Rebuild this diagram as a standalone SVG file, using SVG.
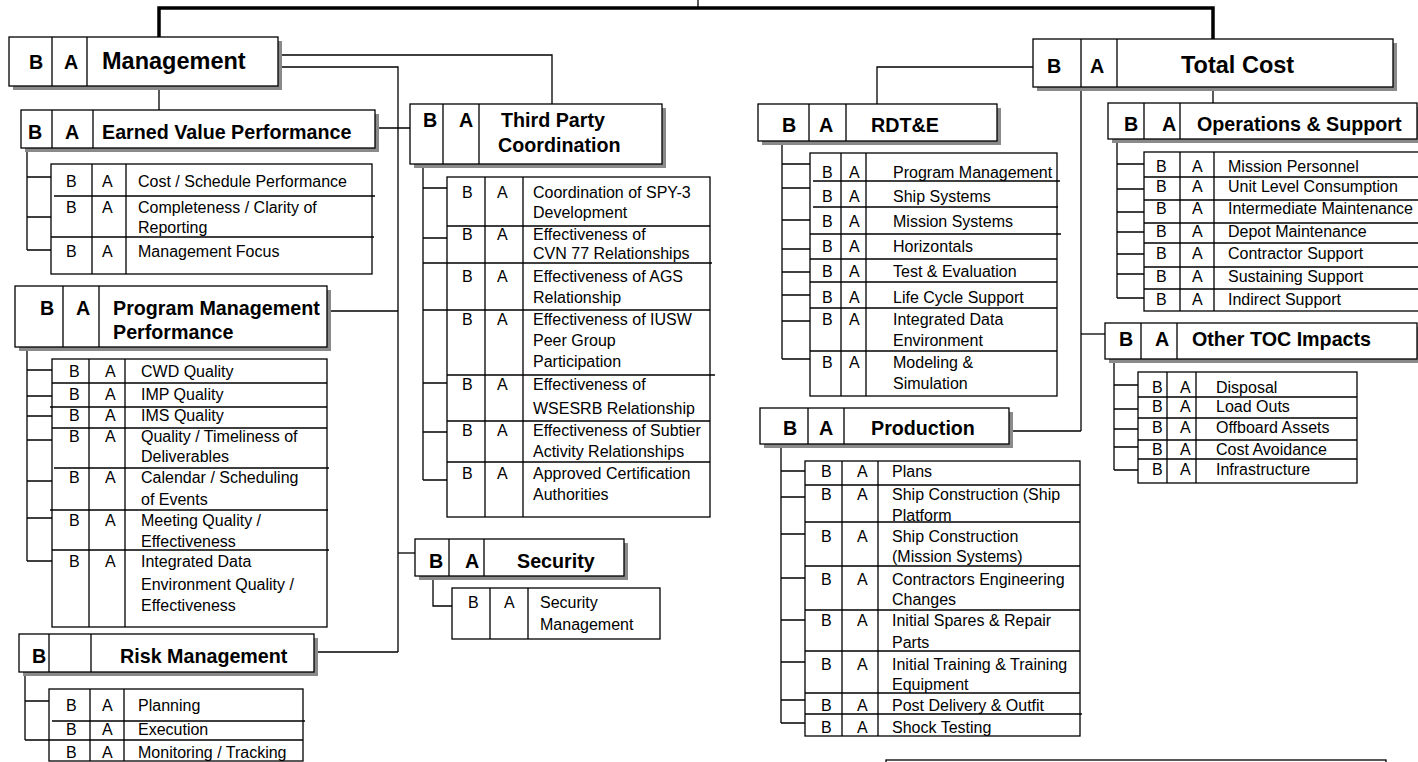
<svg xmlns="http://www.w3.org/2000/svg" width="1418" height="762" viewBox="0 0 1418 762">
<style>
.bx{fill:#fff;stroke:#000;stroke-width:1.3}
.sh{fill:#8a8a8a}
.ln{stroke:#000;stroke-width:1.3;fill:none}
.h{font-family:"Liberation Sans",Arial,sans-serif;font-weight:bold;font-size:19.7px;fill:#000}
.hb{font-family:"Liberation Sans",Arial,sans-serif;font-weight:bold;font-size:23.5px;fill:#000}
.t{font-family:"Liberation Sans",Arial,sans-serif;font-size:16px;fill:#000}
</style>
<rect width="1418" height="762" fill="#fff"/>
<g id="connectors">
<path d="M159,37 V8 H1213 V39" fill="none" stroke="#000" stroke-width="3.5"/>
<path d="M698,0 V8" class="ln" stroke-width="2"/>
<path class="ln" d="M278,55 H552 V104"/>
<path class="ln" d="M278,67 H398 V652"/>
<path class="ln" d="M375,128 H410"/>
<path class="ln" d="M327,311 H398"/>
<path class="ln" d="M398,553 H415"/>
<path class="ln" d="M314,652 H398"/>
<path class="ln" d="M159,86 V110"/>
<path class="ln" d="M1033,67 H877 V104"/>
<path class="ln" d="M1081,87 V431"/>
<path class="ln" d="M1009,431 H1081"/>
<path class="ln" d="M1081,334 H1105"/>
<path class="ln" d="M1213,87 V103"/>
<path class="ln" d="M27,148 V250 M27,177 H53 M27,217 H53 M27,250 H53"/>
<path class="ln" d="M27,347 V561 M27,370 H52 M27,396 H52 M27,416 H52 M27,440 H52 M27,481 H52 M27,518 H52 M27,561 H52"/>
<path class="ln" d="M25,672 V740 M25,701 H49 M25,740 H49"/>
<path class="ln" d="M423,164 V480 M423,188 H447 M423,238 H447 M423,263 H447 M423,310 H447 M423,383 H447 M423,432 H447 M423,480 H447"/>
<path class="ln" d="M433,576 V606 H452"/>
<path class="ln" d="M782,141 V359 M782,164 H810 M782,188 H810 M782,220 H810 M782,249 H810 M782,272 H810 M782,295 H810 M782,321 H810 M782,359 H810"/>
<path class="ln" d="M781,444 V723 M781,471 H805 M781,497 H805 M781,534 H805 M781,578 H805 M781,620 H805 M781,662 H805 M781,700 H805 M781,723 H805"/>
<path class="ln" d="M1117,139 V298 M1117,164 H1144 M1117,189 H1144 M1117,212 H1144 M1117,232 H1144 M1117,254 H1144 M1117,274 H1144 M1117,298 H1144"/>
<path class="ln" d="M1114,359 V470 M1114,385 H1138 M1114,409 H1138 M1114,429 H1138 M1114,447 H1138 M1114,470 H1138"/>
</g>

<g id="management">
<rect class="sh" x="13" y="41" width="269" height="49"/>
<rect class="bx" x="9" y="37" width="269" height="49"/>
<path class="ln" d="M52,37 V86 M87,37 V86"/>
<text class="h" x="29" y="69" font-size="21">B</text>
<text class="h" x="64" y="69" font-size="21">A</text>
<text class="hb" x="102" y="69">Management</text>
</g>

<g id="earned-value">
<rect class="sh" x="25" y="114" width="354" height="38"/>
<rect class="bx" x="21" y="110" width="354" height="38"/>
<path class="ln" d="M52,110 V148 M93,110 V148"/>
<text class="h" x="28" y="139">B</text>
<text class="h" x="65" y="139">A</text>
<text class="h" x="102" y="139">Earned Value Performance</text>
</g>
<g id="earned-value-items">
<rect class="bx" x="51" y="164" width="321" height="110"/>
<path class="ln" d="M92,164 V274 M126,164 V274 M54,196 H375 M51,237 H374"/>
<text class="t" x="66" y="187">B</text><text class="t" x="102" y="187">A</text><text class="t" x="138" y="187">Cost / Schedule Performance</text>
<text class="t" x="66" y="213">B</text><text class="t" x="102" y="213">A</text><text class="t" x="138" y="213">Completeness / Clarity of</text><text class="t" x="138" y="233">Reporting</text>
<text class="t" x="66" y="257">B</text><text class="t" x="102" y="257">A</text><text class="t" x="138" y="257">Management Focus</text>
</g>

<g id="program-mgmt">
<rect class="sh" x="19" y="290" width="312" height="61"/>
<rect class="bx" x="15" y="286" width="312" height="61"/>
<path class="ln" d="M63,286 V347 M99,286 V347"/>
<text class="h" x="40" y="315">B</text>
<text class="h" x="76" y="315">A</text>
<text class="h" x="113" y="315">Program Management</text>
<text class="h" x="113" y="339">Performance</text>
</g>
<g id="program-mgmt-items">
<rect class="bx" x="52" y="359" width="275" height="268"/>
<path class="ln" d="M89,359 V627 M125,359 V627 M52,383 H327 M50,407 H327 M52,428 H327 M54,468 H329 M50,510 H328 M52,550 H329"/>
<text class="t" x="69" y="377">B</text><text class="t" x="105" y="377">A</text><text class="t" x="141" y="377">CWD Quality</text>
<text class="t" x="69" y="400">B</text><text class="t" x="105" y="400">A</text><text class="t" x="141" y="400">IMP Quality</text>
<text class="t" x="69" y="421">B</text><text class="t" x="105" y="421">A</text><text class="t" x="141" y="421">IMS Quality</text>
<text class="t" x="69" y="442">B</text><text class="t" x="105" y="442">A</text><text class="t" x="141" y="442">Quality / Timeliness of</text><text class="t" x="141" y="462">Deliverables</text>
<text class="t" x="69" y="483">B</text><text class="t" x="105" y="483">A</text><text class="t" x="141" y="483">Calendar / Scheduling</text><text class="t" x="141" y="505">of Events</text>
<text class="t" x="69" y="526">B</text><text class="t" x="105" y="526">A</text><text class="t" x="141" y="526">Meeting Quality /</text><text class="t" x="141" y="547">Effectiveness</text>
<text class="t" x="69" y="567">B</text><text class="t" x="105" y="567">A</text><text class="t" x="141" y="567">Integrated Data</text><text class="t" x="141" y="590">Environment Quality /</text><text class="t" x="141" y="611">Effectiveness</text>
</g>

<g id="risk">
<rect class="sh" x="23" y="638" width="295" height="38"/>
<rect class="bx" x="19" y="634" width="295" height="38"/>
<path class="ln" d="M49,634 V672 M91,634 V672"/>
<text class="h" x="32" y="663">B</text>
<text class="h" x="120" y="663">Risk Management</text>
</g>
<g id="risk-items">
<rect class="bx" x="49" y="689" width="254" height="72"/>
<path class="ln" d="M90,689 V761 M124,689 V761 M52,721 H305 M49,740 H303"/>
<text class="t" x="66" y="711">B</text><text class="t" x="102" y="711">A</text><text class="t" x="138" y="711">Planning</text>
<text class="t" x="66" y="735">B</text><text class="t" x="102" y="735">A</text><text class="t" x="138" y="735">Execution</text>
<text class="t" x="66" y="758">B</text><text class="t" x="102" y="758">A</text><text class="t" x="138" y="758">Monitoring / Tracking</text>
</g>

<g id="third-party">
<rect class="sh" x="414" y="108" width="252" height="60"/>
<rect class="bx" x="410" y="104" width="252" height="60"/>
<path class="ln" d="M443,104 V164 M479,104 V164"/>
<text class="h" x="423" y="127">B</text>
<text class="h" x="459" y="127">A</text>
<text class="h" x="501" y="127">Third Party</text>
<text class="h" x="498" y="152">Coordination</text>
</g>
<g id="third-party-items">
<rect class="bx" x="447" y="177" width="263" height="340"/>
<path class="ln" d="M485,177 V517 M523,177 V517 M447,226 H710 M447,263 H712 M447,310 H710 M447,375 H715 M447,421 H710 M447,462 H710"/>
<text class="t" x="462" y="198">B</text><text class="t" x="497" y="198">A</text><text class="t" x="533" y="198">Coordination of SPY-3</text><text class="t" x="533" y="218">Development</text>
<text class="t" x="462" y="240">B</text><text class="t" x="497" y="240">A</text><text class="t" x="533" y="240">Effectiveness of</text><text class="t" x="533" y="259">CVN 77 Relationships</text>
<text class="t" x="462" y="282">B</text><text class="t" x="497" y="282">A</text><text class="t" x="533" y="282">Effectiveness of AGS</text><text class="t" x="533" y="303">Relationship</text>
<text class="t" x="462" y="325">B</text><text class="t" x="497" y="325">A</text><text class="t" x="533" y="325">Effectiveness of IUSW</text><text class="t" x="533" y="346">Peer Group</text><text class="t" x="533" y="367">Participation</text>
<text class="t" x="462" y="390">B</text><text class="t" x="497" y="390">A</text><text class="t" x="533" y="390">Effectiveness of</text><text class="t" x="533" y="414">WSESRB Relationship</text>
<text class="t" x="462" y="436">B</text><text class="t" x="497" y="436">A</text><text class="t" x="533" y="436">Effectiveness of Subtier</text><text class="t" x="533" y="457">Activity Relationships</text>
<text class="t" x="462" y="479">B</text><text class="t" x="497" y="479">A</text><text class="t" x="533" y="479">Approved Certification</text><text class="t" x="533" y="500">Authorities</text>
</g>

<g id="security">
<rect class="sh" x="419" y="543" width="209" height="37"/>
<rect class="bx" x="415" y="539" width="209" height="37"/>
<path class="ln" d="M449,539 V576 M484,539 V576"/>
<text class="h" x="429" y="568">B</text>
<text class="h" x="465" y="568">A</text>
<text class="h" x="517" y="568">Security</text>
</g>
<g id="security-items">
<rect class="bx" x="452" y="588" width="208" height="51"/>
<path class="ln" d="M490,588 V639 M528,588 V639"/>
<text class="t" x="468" y="608">B</text><text class="t" x="504" y="608">A</text><text class="t" x="540" y="608">Security</text><text class="t" x="540" y="630">Management</text>
</g>

<g id="total-cost">
<rect class="sh" x="1037" y="43" width="360" height="48"/>
<rect class="bx" x="1033" y="39" width="360" height="48"/>
<path class="ln" d="M1081,39 V87 M1117,39 V87"/>
<text class="h" x="1047" y="73" font-size="21">B</text>
<text class="h" x="1090" y="73" font-size="21">A</text>
<text class="hb" x="1181" y="73">Total Cost</text>
</g>

<g id="rdte">
<rect class="sh" x="762" y="108" width="239" height="37"/>
<rect class="bx" x="758" y="104" width="239" height="37"/>
<path class="ln" d="M809,104 V141 M846,104 V141"/>
<text class="h" x="782" y="132">B</text>
<text class="h" x="819" y="132">A</text>
<text class="h" x="871" y="132">RDT&amp;E</text>
</g>
<g id="rdte-items">
<rect class="bx" x="810" y="153" width="247" height="243"/>
<path class="ln" d="M841,153 V396 M866,153 V396 M813,181 H1060 M813,207 H1058 M810,234 H1061 M810,259 H1057 M810,282 H1057 M810,308 H1057 M810,351 H1057"/>
<text class="t" x="822" y="178">B</text><text class="t" x="849" y="178">A</text><text class="t" x="893" y="178">Program Management</text>
<text class="t" x="822" y="202">B</text><text class="t" x="849" y="202">A</text><text class="t" x="893" y="202">Ship Systems</text>
<text class="t" x="822" y="227">B</text><text class="t" x="849" y="227">A</text><text class="t" x="893" y="227">Mission Systems</text>
<text class="t" x="822" y="252">B</text><text class="t" x="849" y="252">A</text><text class="t" x="893" y="252">Horizontals</text>
<text class="t" x="822" y="277">B</text><text class="t" x="849" y="277">A</text><text class="t" x="893" y="277">Test &amp; Evaluation</text>
<text class="t" x="822" y="303">B</text><text class="t" x="849" y="303">A</text><text class="t" x="893" y="303">Life Cycle Support</text>
<text class="t" x="822" y="325">B</text><text class="t" x="849" y="325">A</text><text class="t" x="893" y="325">Integrated Data</text><text class="t" x="893" y="346">Environment</text>
<text class="t" x="822" y="368">B</text><text class="t" x="849" y="368">A</text><text class="t" x="893" y="368">Modeling &amp;</text><text class="t" x="893" y="389">Simulation</text>
</g>

<g id="production">
<rect class="sh" x="764" y="412" width="249" height="36"/>
<rect class="bx" x="760" y="408" width="249" height="36"/>
<path class="ln" d="M808,408 V444 M844,408 V444"/>
<text class="h" x="783" y="435">B</text>
<text class="h" x="819" y="435">A</text>
<text class="h" x="871" y="435">Production</text>
</g>
<g id="production-items">
<rect class="bx" x="805" y="461" width="275" height="275"/>
<path class="ln" d="M842,461 V736 M878,461 V736 M805,485 H1080 M805,522 H1080 M805,566 H1080 M805,610 H1080 M805,651 H1080 M805,693 H1080 M805,714 H1082"/>
<text class="t" x="821" y="477">B</text><text class="t" x="857" y="477">A</text><text class="t" x="892" y="477">Plans</text>
<text class="t" x="821" y="500">B</text><text class="t" x="857" y="500">A</text><text class="t" x="892" y="500">Ship Construction (Ship</text><text class="t" x="892" y="521">Platform</text>
<text class="t" x="821" y="542">B</text><text class="t" x="857" y="542">A</text><text class="t" x="892" y="542">Ship Construction</text><text class="t" x="892" y="562">(Mission Systems)</text>
<text class="t" x="821" y="585">B</text><text class="t" x="857" y="585">A</text><text class="t" x="892" y="585">Contractors Engineering</text><text class="t" x="892" y="605">Changes</text>
<text class="t" x="821" y="626">B</text><text class="t" x="857" y="626">A</text><text class="t" x="892" y="626">Initial Spares &amp; Repair</text><text class="t" x="892" y="648">Parts</text>
<text class="t" x="821" y="670">B</text><text class="t" x="857" y="670">A</text><text class="t" x="892" y="670">Initial Training &amp; Training</text><text class="t" x="892" y="690">Equipment</text>
<text class="t" x="821" y="711">B</text><text class="t" x="857" y="711">A</text><text class="t" x="892" y="711">Post Delivery &amp; Outfit</text>
<text class="t" x="821" y="733">B</text><text class="t" x="857" y="733">A</text><text class="t" x="892" y="733">Shock Testing</text>
</g>

<g id="ops-support">
<rect class="sh" x="1112" y="107" width="309" height="36"/>
<rect class="bx" x="1108" y="103" width="309" height="36"/>
<path class="ln" d="M1144,103 V139 M1180,103 V139"/>
<text class="h" x="1124" y="131">B</text>
<text class="h" x="1162" y="131">A</text>
<text class="h" x="1197" y="131">Operations &amp; Support</text>
</g>
<g id="ops-support-items">
<rect class="bx" x="1144" y="152" width="290" height="159"/>
<path class="ln" d="M1180,152 V311 M1214,152 V311 M1144,177 H1418 M1144,200 H1418 M1144,223 H1418 M1144,243 H1418 M1144,267 H1418 M1144,289 H1418"/>
<text class="t" x="1156" y="172">B</text><text class="t" x="1192" y="172">A</text><text class="t" x="1228" y="172">Mission Personnel</text>
<text class="t" x="1156" y="192">B</text><text class="t" x="1192" y="192">A</text><text class="t" x="1228" y="192">Unit Level Consumption</text>
<text class="t" x="1156" y="214">B</text><text class="t" x="1192" y="214">A</text><text class="t" x="1228" y="214">Intermediate Maintenance</text>
<text class="t" x="1156" y="237">B</text><text class="t" x="1192" y="237">A</text><text class="t" x="1228" y="237">Depot Maintenance</text>
<text class="t" x="1156" y="259">B</text><text class="t" x="1192" y="259">A</text><text class="t" x="1228" y="259">Contractor Support</text>
<text class="t" x="1156" y="282">B</text><text class="t" x="1192" y="282">A</text><text class="t" x="1228" y="282">Sustaining Support</text>
<text class="t" x="1156" y="305">B</text><text class="t" x="1192" y="305">A</text><text class="t" x="1228" y="305">Indirect Support</text>
</g>

<g id="other-toc">
<rect class="sh" x="1109" y="327" width="312" height="36"/>
<rect class="bx" x="1105" y="323" width="312" height="36"/>
<path class="ln" d="M1141,323 V359 M1177,323 V359"/>
<text class="h" x="1119" y="346">B</text>
<text class="h" x="1155" y="346">A</text>
<text class="h" x="1192" y="346">Other TOC Impacts</text>
</g>
<g id="other-toc-items">
<rect class="bx" x="1138" y="372" width="219" height="111"/>
<path class="ln" d="M1167,372 V483 M1196,372 V483 M1138,397 H1357 M1138,418 H1357 M1138,440 H1357 M1138,459 H1357"/>
<text class="t" x="1152" y="393">B</text><text class="t" x="1180" y="393">A</text><text class="t" x="1216" y="393">Disposal</text>
<text class="t" x="1152" y="412">B</text><text class="t" x="1180" y="412">A</text><text class="t" x="1216" y="412">Load Outs</text>
<text class="t" x="1152" y="433">B</text><text class="t" x="1180" y="433">A</text><text class="t" x="1216" y="433">Offboard Assets</text>
<text class="t" x="1152" y="455">B</text><text class="t" x="1180" y="455">A</text><text class="t" x="1216" y="455">Cost Avoidance</text>
<text class="t" x="1152" y="475">B</text><text class="t" x="1180" y="475">A</text><text class="t" x="1216" y="475">Infrastructure</text>
</g>

<g id="bottom-box">
<rect class="sh" x="889" y="763" width="500" height="20"/>
<rect class="bx" x="886" y="760" width="500" height="20"/>
</g>
</svg>
